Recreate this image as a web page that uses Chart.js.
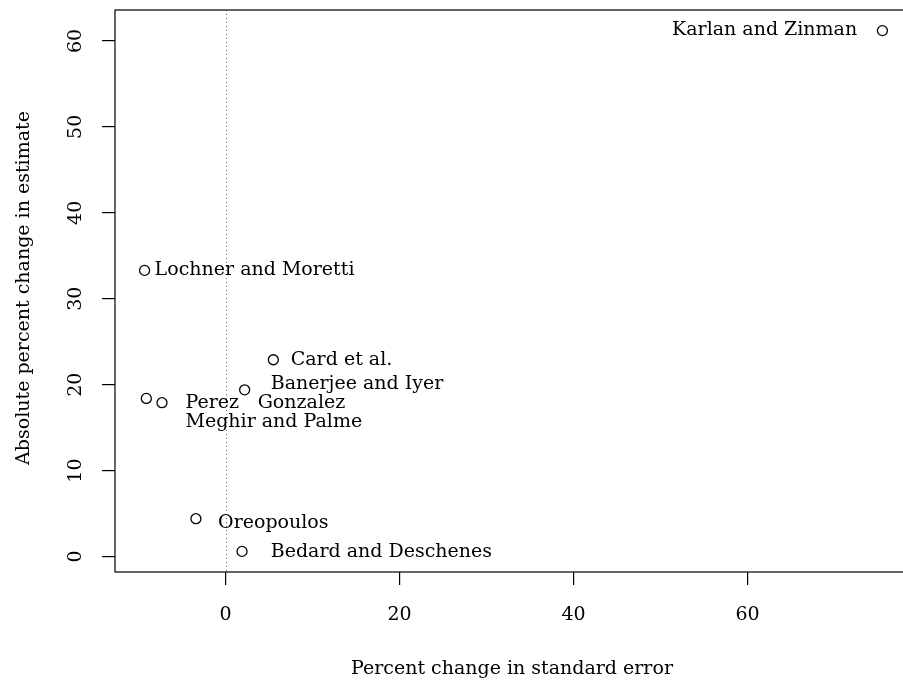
<!DOCTYPE html>
<html>
<head>
<meta charset="utf-8">
<script src="https://cdn.jsdelivr.net/npm/chart.js@4.4.1/dist/chart.umd.min.js"></script>
<style>
  html, body { margin: 0; padding: 0; background: #fff; overflow: hidden; }
  #myChart { display: block; }
</style>
</head>
<body>
<canvas id="myChart" width="920" height="685"></canvas>
<script>
// studies: percent change in SE vs absolute percent change in estimate
const pointX = [75.5, -9.3, 5.5, 2.2, -9.1, -7.3, -3.4, 1.9];
const pointY = [61.2, 33.3, 22.9, 19.4, 18.4, 17.9, 4.4, 0.6];

// text annotations, anchored in data units
const labelText = ['Karlan and Zinman', 'Lochner and Moretti', 'Card et al.', 'Banerjee and Iyer',
  'Perez', 'Gonzalez', 'Meghir and Palme', 'Oreopoulos', 'Bedard and Deschenes'];
const labelX = [72.6, -8.15, 7.5, 5.2, -4.6, 3.7, -4.6, -0.85, 5.2];
const labelY = [61.3, 33.3, 22.9, 20.1, 17.9, 17.9, 15.6, 3.9, 0.5];
const labelAlign = ['right', 'left', 'left', 'left', 'left', 'left', 'left', 'left', 'left'];

const xTicks = [0, 20, 40, 60];
const yTicks = [0, 10, 20, 30, 40, 50, 60];
const X_MIN = -12.7, X_MAX = 78.9;
const Y_MIN = -1.8, Y_MAX = 63.6;

const X_TITLE = 'Percent change in standard error';
const Y_TITLE = 'Absolute percent change in estimate';

const FONT = '19px "DejaVu Serif", serif';
const INK = '#000';

var ctx = document.querySelector('#myChart');

// box, zero line, tick labels, titles and point labels
const decorations = {
  id: 'decorations',
  beforeDatasetsDraw(chart) {
    const c = chart.ctx, a = chart.chartArea;
    const xs = chart.scales.x;
    const x0 = xs.getPixelForValue(0);
    c.save();
    c.strokeStyle = '#666';
    c.lineWidth = 1;
    c.setLineDash([1, 3]);
    c.beginPath();
    c.moveTo(Math.round(x0) + 0.5, a.top);
    c.lineTo(Math.round(x0) + 0.5, a.bottom);
    c.stroke();
    c.restore();
  },
  afterDraw(chart) {
    const c = chart.ctx, a = chart.chartArea;
    const xs = chart.scales.x, ys = chart.scales.y;
    c.save();
    c.strokeStyle = INK;
    c.lineWidth = 1.2;
    c.strokeRect(a.left, a.top, a.right - a.left, a.bottom - a.top);

    c.fillStyle = INK;
    c.font = FONT;
    c.textBaseline = 'middle';

    c.textAlign = 'center';
    xTicks.forEach(v => c.fillText(String(v), xs.getPixelForValue(v), 615));
    c.fillText(X_TITLE, 512, 669);

    yTicks.forEach(v => {
      c.save();
      c.translate(76, ys.getPixelForValue(v));
      c.rotate(-Math.PI / 2);
      c.fillText(String(v), 0, 0);
      c.restore();
    });
    c.save();
    c.translate(24, 288);
    c.rotate(-Math.PI / 2);
    c.fillText(Y_TITLE, 0, 0);
    c.restore();

    labelText.forEach((t, i) => {
      c.textAlign = labelAlign[i];
      c.fillText(t, xs.getPixelForValue(labelX[i]), ys.getPixelForValue(labelY[i]));
    });
    c.restore();
  }
};

var studiesChart = new Chart(ctx, {
  type: 'scatter',
  data: {
    datasets: [{
      data: pointX.map((x, i) => ({ x: x, y: pointY[i] })),
      pointStyle: 'circle',
      pointRadius: 5,
      pointHoverRadius: 5,
      borderColor: INK,
      backgroundColor: 'rgba(0,0,0,0)',
      borderWidth: 1.3
    }]
  },
  options: {
    responsive: false,
    animation: false,
    layout: { padding: { left: 101, top: 10, right: 8, bottom: 99 } },
    plugins: { legend: { display: false }, tooltip: { enabled: false } },
    scales: {
      x: {
        type: 'linear',
        min: X_MIN,
        max: X_MAX,
        afterBuildTicks: s => { s.ticks = xTicks.map(v => ({ value: v })); },
        afterFit: s => { s.height = 14; },
        ticks: { display: false },
        grid: { drawOnChartArea: false, drawTicks: true, tickLength: 13, color: INK, lineWidth: 1.2 },
        border: { display: false }
      },
      y: {
        type: 'linear',
        min: Y_MIN,
        max: Y_MAX,
        afterBuildTicks: s => { s.ticks = yTicks.map(v => ({ value: v })); },
        afterFit: s => { s.width = 14; },
        ticks: { display: false },
        grid: { drawOnChartArea: false, drawTicks: true, tickLength: 13, color: INK, lineWidth: 1.2 },
        border: { display: false }
      }
    }
  },
  plugins: [decorations]
});
</script>
</body>
</html>
